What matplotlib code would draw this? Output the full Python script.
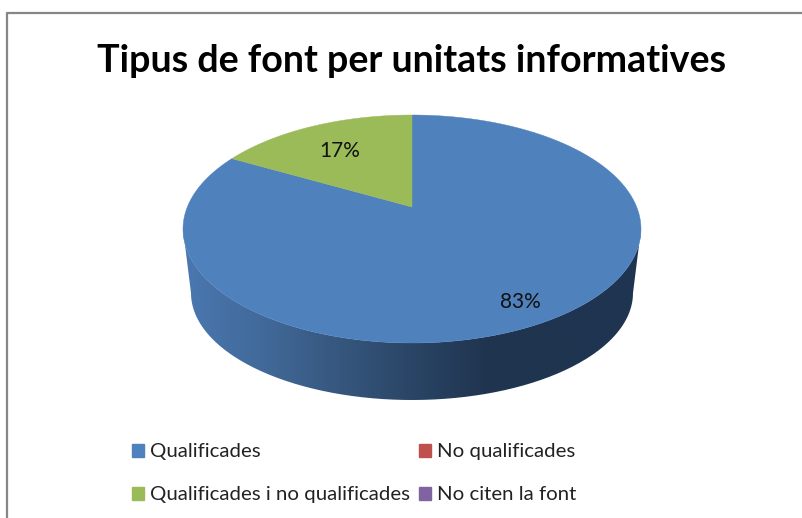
import numpy as np
import matplotlib
matplotlib.use('Agg')
import matplotlib.pyplot as plt
from matplotlib.colors import LinearSegmentedColormap
from matplotlib.patches import Patch, PathPatch, Polygon
from matplotlib.path import Path

title = 'Tipus de font per unitats informatives'
categories = ['Qualificades', 'No qualificades', 'Qualificades i no qualificades', 'No citen la font']
values = [83, 0, 17, 0]
colors = ['#4F81BD', '#C0504D', '#9BBB59', '#8064A2']
side_colors = ['#4A78B0', '#426A9B', '#37587F', '#2A4566', '#20344F', '#1F3450', '#1F3450']

# pixel geometry of the 3d disc: outline ellipse, pie centre sits above its middle
cx, cy, rx, ry = 412, 229, 229, 114
apex_y = 207
low_cy, low_rx, low_ry = 293, 221, 107

plt.rcParams['font.family'] = ['Lato', 'DejaVu Sans']

fig = plt.figure(figsize=(8.02, 5.18), dpi=100)
ax = fig.add_axes([0, 0, 1, 1])


def px(x):
    return (x - cx) / rx


def py(y):
    return (cy - y) / ry


# perspective of the tilted disc, keeps the unit circle on the outline
def tilt(xy):
    c = py(apex_y)
    d = 1 + c * xy[:, 1]
    return np.column_stack([np.sqrt(1 - c ** 2) * xy[:, 0] / d, (xy[:, 1] + c) / d])


wedges, _ = ax.pie(values, colors=colors, startangle=90, counterclock=False, radius=1, center=(0, 0))
for w, c in zip(wedges, colors):
    w.set_visible(False)
    if w.theta1 != w.theta2:
        a = np.radians(np.linspace(w.theta1, w.theta2, 300))
        rim = np.column_stack([np.cos(a), np.sin(a)])
        poly = np.vstack([[[0, 0]], rim])
        ax.add_patch(Polygon(tilt(poly), closed=True, fc=c, ec=c, lw=0.3, zorder=3))
ax.set_aspect('auto')
ax.axis('off')

# side wall of the disc with its left to right shading
t = np.linspace(np.pi, 2 * np.pi, 200)
top_edge = np.column_stack([np.cos(t), np.sin(t)])
low_edge = np.column_stack([low_rx / rx * np.cos(t[::-1]),
                            py(low_cy) + low_ry / ry * np.sin(t[::-1])])
wall = np.vstack([top_edge, low_edge, top_edge[:1]])
wall_patch = PathPatch(Path(wall), fc='none', ec='none', transform=ax.transData)
ax.add_patch(wall_patch)
shade = LinearSegmentedColormap.from_list('side', side_colors)
im = ax.imshow(np.linspace(0, 1, 256)[None, :], cmap=shade, aspect='auto', zorder=1,
               extent=(-1, 1, py(400), 0))
im.set_clip_path(wall_patch)
ax.set_xlim(px(0), px(802))
ax.set_ylim(py(518), py(0))

ax.text(px(412), py(61), title, fontsize=27.1, fontweight='bold', color='black',
        ha='center', va='center')
ax.text(px(340), py(151), f'{values[2]}%', fontsize=15, ha='center', va='center', color='#111111', zorder=5)
ax.text(px(520), py(302), f'{values[0]}%', fontsize=15, ha='center', va='center', color='#111111', zorder=5)

handles = [Patch(color=c) for c in colors]
order = [0, 2, 1, 3]
ax.legend([handles[i] for i in order], [categories[i] for i in order], ncol=2, frameon=False, fontsize=14.7,
          loc='upper left', bbox_to_anchor=(132 / 802, 1 - 443.5 / 518),
          handlelength=0.6, handleheight=0.6, handletextpad=0.3,
          columnspacing=0.4, labelspacing=1.27, borderpad=0, borderaxespad=0,
          labelcolor='#222222')

# chart frame, cut off at the right and bottom of the screenshot
ax.plot([px(6.5), px(6.5), px(802)], [py(518), py(13), py(13)], color='#868686', lw=1.6, zorder=6)

fig.savefig('out.png', dpi=100, facecolor='white')
